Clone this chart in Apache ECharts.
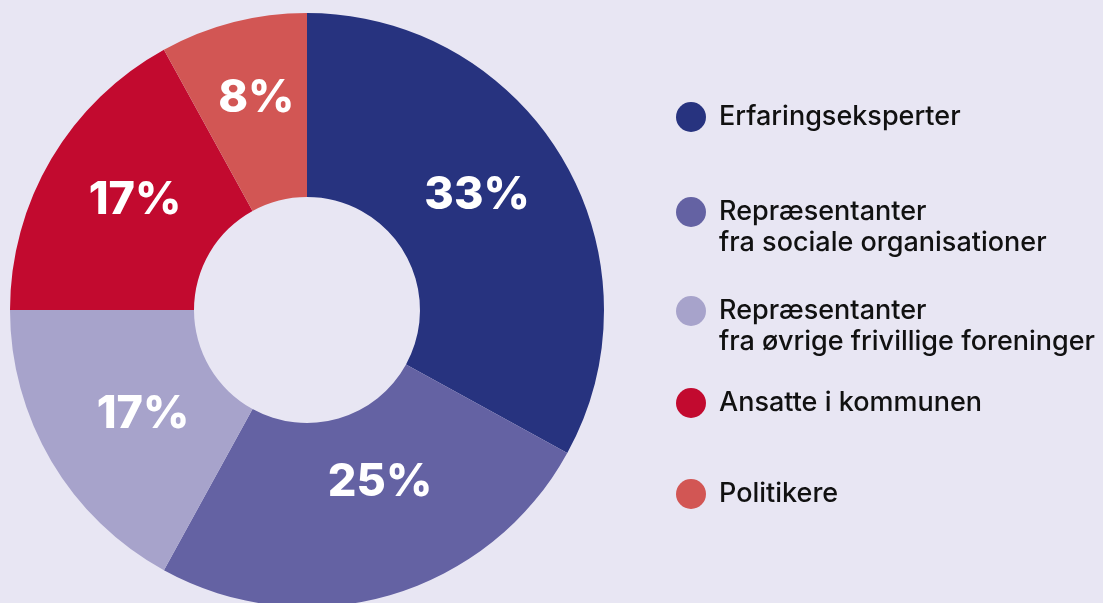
<!DOCTYPE html>
<html>
<head>
<meta charset="utf-8">
<script src="https://cdn.jsdelivr.net/npm/echarts@6/dist/echarts.min.js"></script>
<style>
html,body{margin:0;padding:0;background:#e8e6f3;}
#c{width:1103px;height:603px;}
</style>
</head>
<body>
<div id="c"></div>
<script>
const categories = [
  "Erfaringseksperter",
  "Repræsentanter\nfra sociale organisationer",
  "Repræsentanter\nfra øvrige frivillige foreninger",
  "Ansatte i kommunen",
  "Politikere"
];
// shares in percent
const values = [33, 25, 17, 17, 8];
const colors = ["#27337f", "#6462a3", "#a7a3cb", "#c20a2f", "#d25654"];

const chart = echarts.init(document.getElementById('c'), null, {renderer: 'canvas'});

// layout-only settings
const iconCenters = [117, 212, 311, 403, 494];
const labelOffsets = [[-9, -9], [15, -27], [15, -1], [7, -4], [1, -10]];
const LH = 31;

const legends = categories.map((name, i) => {
  const twoLine = name.indexOf('\n') >= 0;
  return {
    orient: 'vertical',
    left: 676,
    top: twoLine ? iconCenters[i] - (LH * 3) / 2 : iconCenters[i] - LH / 2,
    itemWidth: 46,
    itemHeight: 30,
    icon: 'circle',
    selectedMode: false,
    padding: 0,
    data: [name],
    formatter: n => (twoLine ? '\n' + n : n),
    textStyle: {
      fontFamily: 'Inter, "Noto Sans", sans-serif',
      fontSize: 27,
      lineHeight: LH,
      color: '#111111',
      fontWeight: 500
    }
  };
});

const option = {
  backgroundColor: '#e8e6f3',
  color: colors,
  animation: false,
  legend: legends,
  series: [{
    type: 'pie',
    center: [307, 310],
    radius: [113, 297],
    startAngle: 90,
    clockwise: true,
    avoidLabelOverlap: false,
    label: {
      show: true,
      position: 'inside',
      formatter: '{c}%',
      color: '#ffffff',
      fontFamily: 'Inter, "Noto Sans", sans-serif',
      fontWeight: 800,
      fontSize: 45
    },
    labelLine: {show: false},
    emphasis: {disabled: true},
    data: categories.map((name, i) => ({
      name: name,
      value: values[i],
      label: {offset: labelOffsets[i]}
    }))
  }]
};
chart.setOption(option);
</script>
</body>
</html>
